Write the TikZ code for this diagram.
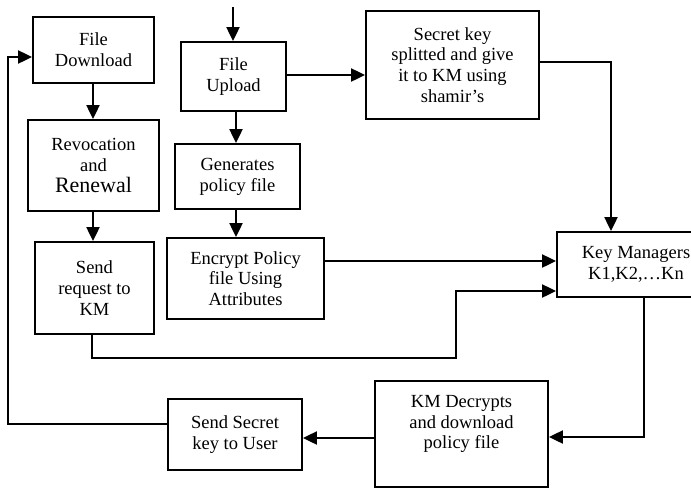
\documentclass[tikz,border=0pt]{standalone}
\usepackage{fontspec}
\setmainfont{Liberation Serif}
\usetikzlibrary{arrows.meta}
\begin{document}
\begin{tikzpicture}[x=1pt,y=-1pt,
  box/.style={draw,line width=1.9pt,align=center,inner sep=0pt,font=\fontsize{18.5}{20.8}\selectfont},
  txt/.style={align=center,inner sep=0pt,font=\fontsize{18.5}{20.8}\selectfont},
  arr/.style={line width=2.2pt,-{Triangle[length=14pt,width=13pt]}},
  ln/.style={line width=2.2pt}]
\clip (0,0) rectangle (691,488);
% boxes
\node[box,minimum width=121,minimum height=66] (dl) at (93.5,50) {File\\Download};
\node[box,minimum width=131,minimum height=91] (rev) at (93.5,165.5) {Revocation\\and\\{\fontsize{22}{24}\selectfont Renewal}};
\node[box,minimum width=119,minimum height=92] (req) at (94.5,288) {Send\\request to\\KM};
\node[box,minimum width=105,minimum height=69] (up) at (233.5,76.5) {File\\Upload};
\node[box,minimum width=125,minimum height=65] (gen) at (237.5,176.5) {Generates\\policy file};
\node[box,minimum width=157,minimum height=81] (enc) at (245.5,278.5) {Encrypt Policy\\file Using\\Attributes};
\node[box,minimum width=173,minimum height=108] (sec) at (452.5,65) {Secret key\\splitted and give\\it to KM using\\shamir’s};
\node[box,minimum width=158,minimum height=65] (km) at (636,264.5) {Key Managers\\K1,K2,…Kn};
\node[box,minimum width=173,minimum height=106] (dec) at (461.5,434) {};
\node[txt] (dect) at (461.5,424) {KM Decrypts\\and download\\policy file};
\node[box,minimum width=134,minimum height=71] (ss) at (235,434.5) {Send Secret\\key to User};
% connectors
\coordinate (topin) at (233,7);
\draw[arr] (topin) -- (up.north -| topin);
\draw[arr] (dl.south -| 93,0) -- (rev.north -| 93,0);
\draw[arr] (rev.south -| 93,0) -- (req.north -| 93,0);
\draw[arr] (up.south -| 236,0) -- (gen.north -| 236,0);
\draw[arr] (gen.south -| 236,0) -- (enc.north -| 236,0);
\draw[arr] (up.east |- 0,75) -- (sec.west |- 0,75);
\draw[arr] (sec.east |- 0,62) -| (km.north -| 611,0);
\draw[arr] (enc.east |- 0,261) -- (km.west |- 0,261);
\coordinate (r1) at (456,358);
\draw[arr] (req.south -| 92,0) |- (r1) |- (km.west |- 0,291);
\draw[arr] (km.south -| 644,0) |- (dec.east |- 0,437);
\draw[arr] (dec.west |- 0,438) -- (ss.east |- 0,438);
\coordinate (l1) at (8,424);
\draw[arr] (ss.west |- l1) -- (l1) |- (dl.west |- 0,57);
\end{tikzpicture}
\end{document}
